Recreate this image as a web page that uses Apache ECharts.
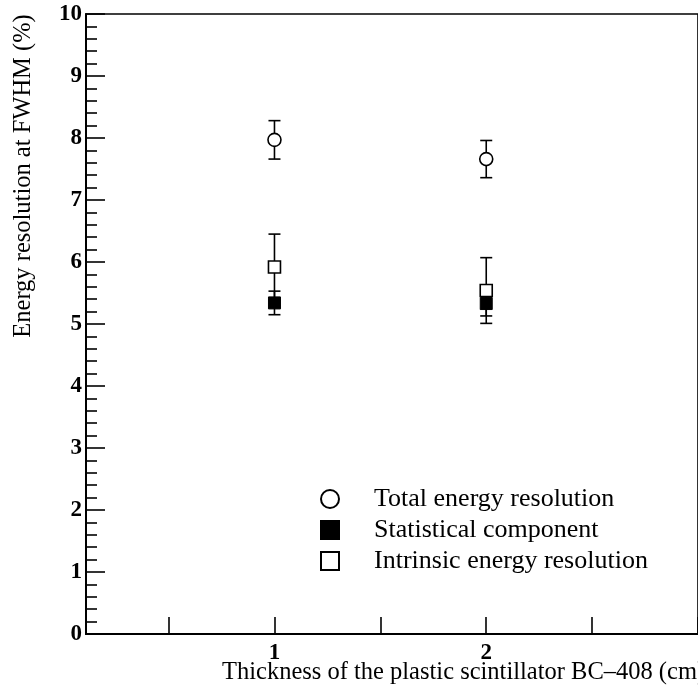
<!DOCTYPE html>
<html>
<head>
<meta charset="utf-8">
<script src="https://cdn.jsdelivr.net/npm/echarts@6/dist/echarts.min.js"></script>
<style>
html,body{margin:0;padding:0;background:#fff;}
#chart{width:698px;height:693px;}
</style>
</head>
<body>
<div id="chart"></div>
<script>
// ---- data ----
const thickness = [1, 2];
const totalRes = [7.97, 7.66];
const totalErr = [0.31, 0.30];
const statComp = [5.34, 5.33];
const statErr = [0.19, 0.20];
const intrinsicRes = [5.92, 5.54];
const intrinsicErr = [0.53, 0.53];
const xTickValues = [0.5, 1, 1.5, 2, 2.5, 3];
const xLabelValues = [1, 2];
const seriesNames = ['Total energy resolution', 'Statistical component', 'Intrinsic energy resolution'];
const xTitle = 'Thickness of the plastic scintillator BC\u2013408 (cm)';
const yTitle = 'Energy resolution at FWHM (%)';

const FONT = '"Liberation Serif", "Times New Roman", serif';

function pts(vals) { return thickness.map((x, i) => [x, vals[i]]); }
function errs(vals, e) { return thickness.map((x, i) => [x, vals[i] - e[i], vals[i] + e[i]]); }

function errRender(params, api) {
  const x = api.value(0), lo = api.value(1), hi = api.value(2);
  const p1 = api.coord([x, hi]);
  const p2 = api.coord([x, lo]);
  const w = 6;
  const st = { stroke: '#000', lineWidth: 1.6 };
  return {
    type: 'group',
    children: [
      { type: 'line', shape: { x1: p1[0], y1: p1[1], x2: p2[0], y2: p2[1] }, style: st },
      { type: 'line', shape: { x1: p1[0] - w, y1: p1[1], x2: p1[0] + w, y2: p1[1] }, style: st },
      { type: 'line', shape: { x1: p2[0] - w, y1: p2[1], x2: p2[0] + w, y2: p2[1] }, style: st }
    ]
  };
}

const chart = echarts.init(document.getElementById('chart'), null, { renderer: 'canvas' });
chart.setOption({
  animation: false,
  backgroundColor: '#fff',
  grid: { left: 86, right: -30, top: 14, bottom: 59, show: true, borderColor: '#000', borderWidth: 1.6, backgroundColor: 'transparent' },
  xAxis: {
    type: 'value', min: 0.11, max: 3.0,
    axisLine: { show: true, onZero: false, lineStyle: { color: '#000', width: 2 } },
    axisTick: { show: true, inside: true, length: 17, lineStyle: { color: '#000', width: 1.6 }, customValues: xTickValues },
    axisLabel: { show: true, customValues: xLabelValues, margin: 8, color: '#000', fontFamily: FONT, fontSize: 23, fontWeight: 'bold' },
    splitLine: { show: false }
  },
  yAxis: {
    type: 'value', min: 0, max: 10, interval: 1,
    axisLine: { show: true, lineStyle: { color: '#000', width: 2 } },
    axisTick: { show: true, inside: true, length: 19, lineStyle: { color: '#000', width: 1.6 } },
    minorTick: { show: true, splitNumber: 5, length: 11, lineStyle: { color: '#000', width: 1.6 } },
    axisLabel: { margin: 4, color: '#000', fontFamily: FONT, fontSize: 23, fontWeight: 'bold' },
    splitLine: { show: false }
  },
  legend: {
    orient: 'vertical', left: 315, top: 481, itemWidth: 18, itemHeight: 18, itemGap: 5,
    data: seriesNames,
    textStyle: { color: '#000', fontFamily: FONT, fontSize: 26, padding: [0, 0, 0, 30] }
  },
  graphic: [
    { type: 'text', x: 24, y: 176, rotation: Math.PI / 2, style: { text: yTitle, fontFamily: FONT, fontSize: 24.5, fill: '#000', textAlign: 'center', textVerticalAlign: 'middle' } },
    { type: 'text', x: 222, y: 673, style: { text: xTitle, fontFamily: FONT, fontSize: 24.5, fill: '#000', textAlign: 'left', textVerticalAlign: 'middle' } }
  ],
  series: [
    { type: 'custom', name: 'errTotal', renderItem: errRender, data: errs(totalRes, totalErr), z: 1, silent: true },
    { type: 'custom', name: 'errStat', renderItem: errRender, data: errs(statComp, statErr), z: 1, silent: true },
    { type: 'custom', name: 'errIntr', renderItem: errRender, data: errs(intrinsicRes, intrinsicErr), z: 1, silent: true },
    { type: 'scatter', name: seriesNames[0], data: pts(totalRes), symbol: 'circle', symbolSize: 13, z: 3,
      itemStyle: { color: '#fff', borderColor: '#000', borderWidth: 1.6, opacity: 1 } },
    { type: 'scatter', name: seriesNames[1], data: pts(statComp), symbol: 'rect', symbolSize: 12, z: 3,
      itemStyle: { color: '#000', borderColor: '#000', borderWidth: 1, opacity: 1 } },
    { type: 'scatter', name: seriesNames[2], data: pts(intrinsicRes), symbol: 'rect', symbolSize: 12, z: 4,
      itemStyle: { color: '#fff', borderColor: '#000', borderWidth: 1.6, opacity: 1 } }
  ]
});
</script>
</body>
</html>
